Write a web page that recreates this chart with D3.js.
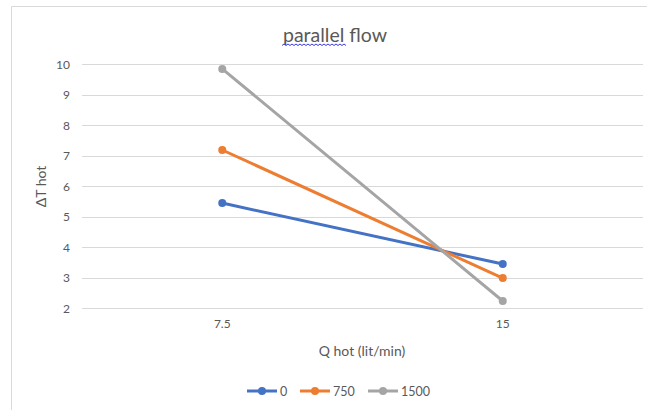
<!DOCTYPE html>
<html><head><meta charset="utf-8">
<script src="https://cdn.jsdelivr.net/npm/d3@7"></script>
<style>body{margin:0;background:#fff}svg{display:block}text{font-family:Lato,"Open Sans",sans-serif;fill:#595959}</style>
</head><body><svg id="c" width="647" height="410"></svg>
<script>
const categories = ["7.5", "15"];
const seriesNames = ["0", "750", "1500"];
const series0 = [5.45, 3.45];
const series750 = [7.19, 2.99];
const series1500 = [9.85, 2.24];
const yTicks = [2, 3, 4, 5, 6, 7, 8, 9, 10];
const colors = ["#4472C4", "#ED7D31", "#A5A5A5"];
const allSeries = [series0, series750, series1500];

const svg = d3.select("#c");
// chart border
svg.append("path").attr("d","M11.5,410 L11.5,6.5 L647,6.5").attr("fill","none").attr("stroke","#d9d9d9");

const x = d3.scaleBand().domain(categories).range([82, 643]);
const y = d3.scaleLinear().domain([2, 10]).range([308.3, 64.3]);

// gridlines
svg.append("g").selectAll("line").data(yTicks).join("line")
  .attr("x1",82).attr("x2",643)
  .attr("y1",d=>Math.round(y(d))+0.5).attr("y2",d=>Math.round(y(d))+0.5)
  .attr("stroke","#d9d9d9").attr("stroke-width",1);

// y axis labels
const ya = svg.append("g").attr("transform","translate(70,0)")
  .call(d3.axisLeft(y).tickValues(yTicks).tickSize(0).tickPadding(0));
ya.select(".domain").remove();
ya.selectAll("text").attr("font-size",12).attr("font-family","Lato, sans-serif").attr("fill","#595959");

// x axis labels
const xa = svg.append("g").attr("transform","translate(0,319)")
  .call(d3.axisBottom(x).tickSize(0).tickPadding(0));
xa.select(".domain").remove();
xa.selectAll("text").attr("font-size",12).attr("font-family","Lato, sans-serif").attr("fill","#595959");

// title
svg.append("text").attr("x",335).attr("y",41.5).attr("text-anchor","middle")
  .attr("font-size",19.5).text("parallel flow");
// spell-check squiggle
let sq = "M282,45.5";
for (let i = 0; i < 32; i++) sq += ` l2,${i%2?1.5:-1.5}`;
svg.append("path").attr("d",sq).attr("fill","none").attr("stroke","#3b3bd6").attr("stroke-width",1);

// axis titles
svg.append("text").attr("x",362).attr("y",356).attr("text-anchor","middle")
  .attr("font-size",14).text("Q hot (lit/min)");
svg.append("text").attr("transform","translate(46,186.5) rotate(-90)").attr("text-anchor","middle")
  .attr("font-size",14).text("\u0394T hot");

// lines
const line = d3.line().x((d,i)=>x(categories[i])+x.bandwidth()/2).y(d=>y(d));
allSeries.forEach((s,k)=>{
  const g = svg.append("g");
  g.append("path").datum(s).attr("d",line).attr("fill","none")
    .attr("stroke",colors[k]).attr("stroke-width",3).attr("stroke-linecap","round");
  g.selectAll("circle").data(s).join("circle")
    .attr("cx",(d,i)=>x(categories[i])+x.bandwidth()/2).attr("cy",d=>y(d))
    .attr("r",4).attr("fill",colors[k]);
});

// legend
const legX = [247, 300, 368];
const lg = svg.append("g");
seriesNames.forEach((n,k)=>{
  const g = lg.append("g").attr("transform",`translate(${legX[k]},391)`);
  g.append("line").attr("x1",0).attr("x2",30).attr("stroke",colors[k]).attr("stroke-width",3);
  g.append("circle").attr("cx",15).attr("r",4).attr("fill",colors[k]);
  g.append("text").attr("x",33).attr("y",4.5).attr("font-size",12.5).text(n);
});
</script></body></html>
